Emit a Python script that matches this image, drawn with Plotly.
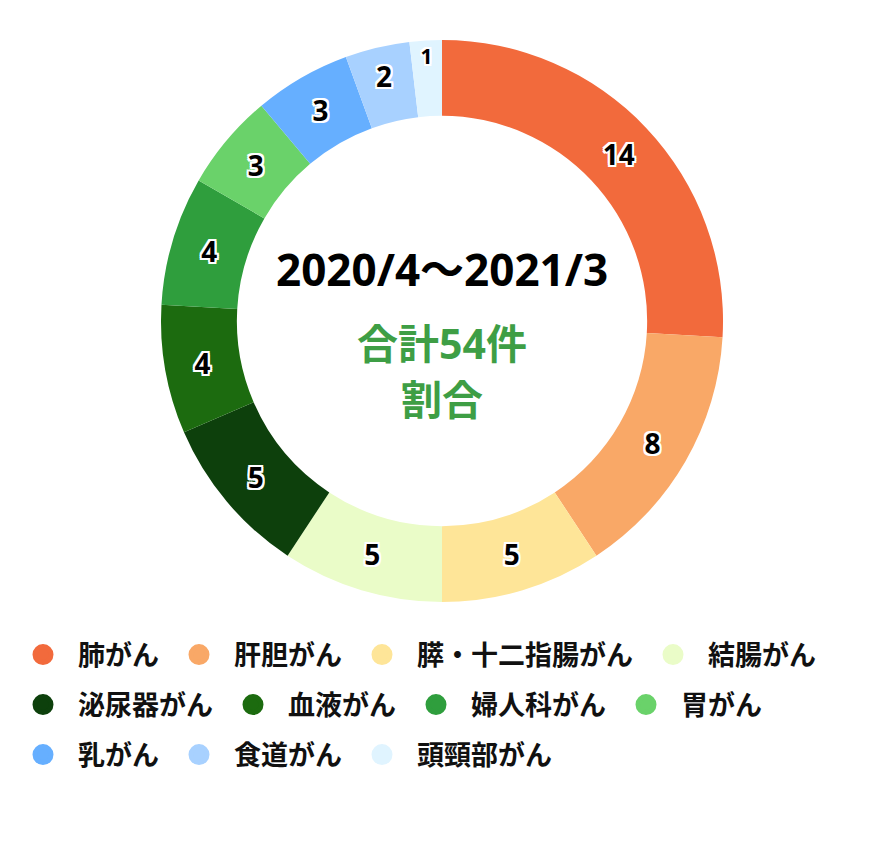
import plotly.graph_objects as go

# Data
labels = ["肺がん", "肝胆がん", "膵・十二指腸がん", "結腸がん",
          "泌尿器がん", "血液がん", "婦人科がん", "胃がん",
          "乳がん", "食道がん", "頭頸部がん"]
counts = [14, 8, 5, 5, 5, 4, 4, 3, 3, 2, 1]
colors = ["#F26A3C", "#F9A867", "#FEE598", "#EAFCC8",
          "#0D400C", "#1C6B0F", "#2F9E3D", "#6AD26A",
          "#66AFFF", "#A8D1FF", "#E0F4FF"]
legend_rows = ["legend"] * 4 + ["legend2"] * 4 + ["legend3"] * 3
period = "2020/4～2021/3"
total_text = "合計%d件" % sum(counts)

FONT = "Noto Sans, Noto Sans CJK JP"
outline = ", ".join("%dpx %dpx 0 white" % (dx, dy)
                    for dx in (-2, 0, 2) for dy in (-2, 0, 2) if dx or dy)

fig = go.Figure()

fig.add_trace(go.Pie(
    labels=labels,
    values=counts,
    marker=dict(colors=colors, line=dict(width=0)),
    hole=0.73,
    sort=False,
    direction="clockwise",
    rotation=0,
    textinfo="value",
    textposition="inside",
    insidetextorientation="horizontal",
    textfont=dict(family=FONT, size=28, color="black", weight="bold", shadow=outline),
    domain=dict(x=[0.1719, 0.8034], y=[0.3109, 0.9629]),
    showlegend=False,
    hoverinfo="label+value+percent",
))

# legend entries with round markers
for name, c, lg in zip(labels, colors, legend_rows):
    fig.add_trace(go.Scatter(
        x=[None], y=[None], mode="markers", name=name, legend=lg,
        marker=dict(symbol="circle", size=16, color=c, line=dict(color=c, width=5)),
        hoverinfo="skip",
    ))

legend_style = dict(
    orientation="h",
    x=0, xanchor="left", yanchor="middle",
    font=dict(family=FONT, size=27, color="#111111", weight="bold"),
    itemsizing="trace",
    itemwidth=60,
    bgcolor="rgba(0,0,0,0)",
)

center_font = dict(family=FONT, weight="bold")

fig.update_layout(
    width=890, height=862,
    margin=dict(l=0, r=0, t=0, b=0),
    paper_bgcolor="white",
    plot_bgcolor="white",
    font=dict(family=FONT, color="black"),
    xaxis=dict(visible=False),
    yaxis=dict(visible=False),
    legend=dict(legend_style, y=1 - 647 / 862),
    legend2=dict(legend_style, y=1 - 697 / 862),
    legend3=dict(legend_style, y=1 - 747 / 862),
    annotations=[
        dict(text=period, x=0.4876, y=1 - 261 / 862, yanchor="middle",
             font=dict(center_font, size=44, color="black")),
        dict(text=total_text, x=0.4876, y=1 - 335 / 862, yanchor="middle",
             font=dict(center_font, size=41, color="#3E9E45")),
        dict(text="割合", x=0.4876, y=1 - 391 / 862, yanchor="middle",
             font=dict(center_font, size=41, color="#3E9E45")),
    ],
)
fig.update_annotations(xref="paper", yref="paper", showarrow=False)

fig.write_html("out.html")
